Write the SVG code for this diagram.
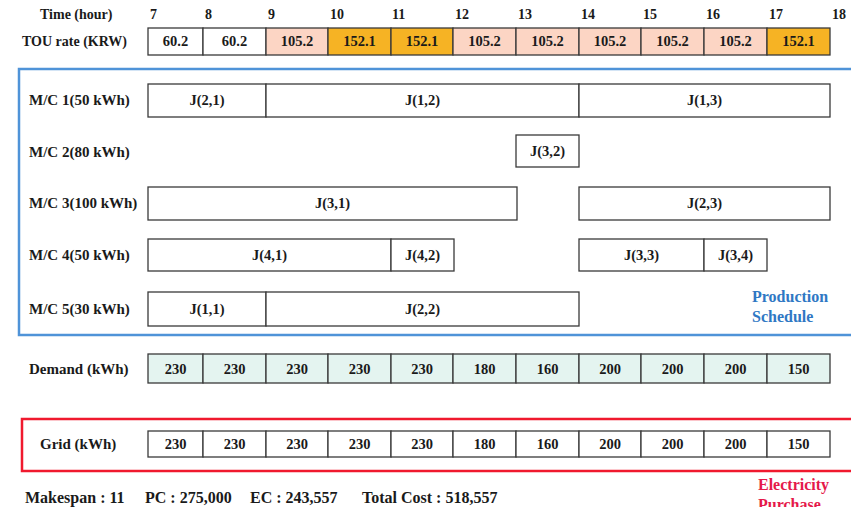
<svg xmlns="http://www.w3.org/2000/svg" width="851" height="507" viewBox="0 0 851 507">
<style>
text{font-family:"Liberation Serif","Times New Roman",serif;font-weight:bold;fill:#1a1a1a}
.lbl{font-size:14px}
.mc{font-size:15px}
.val{font-size:14.5px;text-anchor:middle}
.cell{stroke:#3a3a3a;stroke-width:1.3}
.w{fill:#ffffff}
.pk{fill:#fcd5c4}
.og{fill:#f6b324}
.dm{fill:#e4f4f0}
.job{fill:#ffffff;stroke:#3a3a3a;stroke-width:1.3}
.blue{font-size:16px;fill:#2f78c4}
.red{font-size:16px;fill:#e5194a}
.foot{font-size:16px}
</style>
<rect width="851" height="507" fill="#ffffff"/>
<g id="time-axis">
<text class="lbl" x="40" y="19">Time (hour)</text>
<text class="lbl" x="150" y="19">7</text>
<text class="lbl" x="205" y="19">8</text>
<text class="lbl" x="268" y="19">9</text>
<text class="lbl" x="330" y="19">10</text>
<text class="lbl" x="392" y="19">11</text>
<text class="lbl" x="455" y="19">12</text>
<text class="lbl" x="518" y="19">13</text>
<text class="lbl" x="581" y="19">14</text>
<text class="lbl" x="643" y="19">15</text>
<text class="lbl" x="706" y="19">16</text>
<text class="lbl" x="769" y="19">17</text>
<text class="lbl" x="832" y="19">18</text>
</g>
<g id="tou-row">
<text class="lbl" x="22" y="46">TOU rate (KRW)</text>
<rect class="cell w" x="148" y="28" width="55" height="27"/>
<rect class="cell w" x="203" y="28" width="63" height="27"/>
<rect class="cell pk" x="266" y="28" width="62" height="27"/>
<rect class="cell og" x="328" y="28" width="63" height="27"/>
<rect class="cell og" x="391" y="28" width="62" height="27"/>
<rect class="cell pk" x="453" y="28" width="63" height="27"/>
<rect class="cell pk" x="516" y="28" width="63" height="27"/>
<rect class="cell pk" x="579" y="28" width="62" height="27"/>
<rect class="cell pk" x="641" y="28" width="63" height="27"/>
<rect class="cell pk" x="704" y="28" width="63" height="27"/>
<rect class="cell og" x="767" y="28" width="63" height="27"/>
<text class="val" x="175.5" y="46">60.2</text>
<text class="val" x="234.5" y="46">60.2</text>
<text class="val" x="297" y="46">105.2</text>
<text class="val" x="359.5" y="46">152.1</text>
<text class="val" x="422" y="46">152.1</text>
<text class="val" x="484.5" y="46">105.2</text>
<text class="val" x="547.5" y="46">105.2</text>
<text class="val" x="610" y="46">105.2</text>
<text class="val" x="672.5" y="46">105.2</text>
<text class="val" x="735.5" y="46">105.2</text>
<text class="val" x="798.5" y="46">152.1</text>
</g>
<g id="production-schedule">
<rect x="19" y="69" width="845" height="266" fill="none" stroke="#4f93d8" stroke-width="2.5"/>
<text class="blue" x="752" y="302">Production</text>
<text class="blue" x="752" y="322">Schedule</text>
</g>
<g id="mc1">
<text class="mc" x="29" y="105">M/C 1(50 kWh)</text>
<rect class="job" x="148" y="84" width="118" height="33"/>
<rect class="job" x="266" y="84" width="313" height="33"/>
<rect class="job" x="579" y="84" width="251" height="33"/>
<text class="val" x="207" y="105">J(2,1)</text>
<text class="val" x="422.5" y="105">J(1,2)</text>
<text class="val" x="704.5" y="105">J(1,3)</text>
</g>
<g id="mc2">
<text class="mc" x="29" y="157">M/C 2(80 kWh)</text>
<rect class="job" x="516" y="135" width="63" height="32"/>
<text class="val" x="547.5" y="156">J(3,2)</text>
</g>
<g id="mc3">
<text class="mc" x="29" y="208">M/C 3(100 kWh)</text>
<rect class="job" x="148" y="187" width="369" height="33"/>
<rect class="job" x="579" y="187" width="251" height="33"/>
<text class="val" x="332.5" y="208">J(3,1)</text>
<text class="val" x="704.5" y="208">J(2,3)</text>
</g>
<g id="mc4">
<text class="mc" x="29" y="260">M/C 4(50 kWh)</text>
<rect class="job" x="148" y="239" width="243" height="32"/>
<rect class="job" x="391" y="239" width="63" height="32"/>
<rect class="job" x="579" y="239" width="125" height="32"/>
<rect class="job" x="704" y="239" width="63" height="32"/>
<text class="val" x="269.5" y="260">J(4,1)</text>
<text class="val" x="422.5" y="260">J(4,2)</text>
<text class="val" x="641.5" y="260">J(3,3)</text>
<text class="val" x="735.5" y="260">J(3,4)</text>
</g>
<g id="mc5">
<text class="mc" x="29" y="314">M/C 5(30 kWh)</text>
<rect class="job" x="148" y="292" width="118" height="34"/>
<rect class="job" x="266" y="292" width="313" height="34"/>
<text class="val" x="207" y="314">J(1,1)</text>
<text class="val" x="422.5" y="314">J(2,2)</text>
</g>
<g id="demand-row">
<text class="mc" x="29" y="374">Demand (kWh)</text>
<rect class="cell dm" x="148" y="354" width="55" height="29"/>
<rect class="cell dm" x="203" y="354" width="63" height="29"/>
<rect class="cell dm" x="266" y="354" width="62" height="29"/>
<rect class="cell dm" x="328" y="354" width="63" height="29"/>
<rect class="cell dm" x="391" y="354" width="62" height="29"/>
<rect class="cell dm" x="453" y="354" width="63" height="29"/>
<rect class="cell dm" x="516" y="354" width="63" height="29"/>
<rect class="cell dm" x="579" y="354" width="62" height="29"/>
<rect class="cell dm" x="641" y="354" width="63" height="29"/>
<rect class="cell dm" x="704" y="354" width="63" height="29"/>
<rect class="cell dm" x="767" y="354" width="63" height="29"/>
<text class="val" x="175.5" y="374">230</text>
<text class="val" x="234.5" y="374">230</text>
<text class="val" x="297" y="374">230</text>
<text class="val" x="359.5" y="374">230</text>
<text class="val" x="422" y="374">230</text>
<text class="val" x="484.5" y="374">180</text>
<text class="val" x="547.5" y="374">160</text>
<text class="val" x="610" y="374">200</text>
<text class="val" x="672.5" y="374">200</text>
<text class="val" x="735.5" y="374">200</text>
<text class="val" x="798.5" y="374">150</text>
</g>
<g id="electricity-purchase">
<rect x="22" y="419" width="845" height="52" fill="none" stroke="#f0192e" stroke-width="2.5"/>
<text class="red" x="758" y="490">Electricity</text>
<text class="red" x="758" y="510">Purchase</text>
</g>
<g id="grid-row">
<text class="mc" x="40" y="449">Grid (kWh)</text>
<rect class="cell w" x="148" y="431" width="55" height="26"/>
<rect class="cell w" x="203" y="431" width="63" height="26"/>
<rect class="cell w" x="266" y="431" width="62" height="26"/>
<rect class="cell w" x="328" y="431" width="63" height="26"/>
<rect class="cell w" x="391" y="431" width="62" height="26"/>
<rect class="cell w" x="453" y="431" width="63" height="26"/>
<rect class="cell w" x="516" y="431" width="63" height="26"/>
<rect class="cell w" x="579" y="431" width="62" height="26"/>
<rect class="cell w" x="641" y="431" width="63" height="26"/>
<rect class="cell w" x="704" y="431" width="63" height="26"/>
<rect class="cell w" x="767" y="431" width="63" height="26"/>
<text class="val" x="175.5" y="449">230</text>
<text class="val" x="234.5" y="449">230</text>
<text class="val" x="297" y="449">230</text>
<text class="val" x="359.5" y="449">230</text>
<text class="val" x="422" y="449">230</text>
<text class="val" x="484.5" y="449">180</text>
<text class="val" x="547.5" y="449">160</text>
<text class="val" x="610" y="449">200</text>
<text class="val" x="672.5" y="449">200</text>
<text class="val" x="735.5" y="449">200</text>
<text class="val" x="798.5" y="449">150</text>
</g>
<g id="connectors"></g>
<g id="summary">
<text class="foot" x="25" y="503">Makespan : 11</text>
<text class="foot" x="145" y="503">PC : 275,000</text>
<text class="foot" x="250" y="503">EC : 243,557</text>
<text class="foot" x="362" y="503">Total Cost : 518,557</text>
</g>
</svg>
